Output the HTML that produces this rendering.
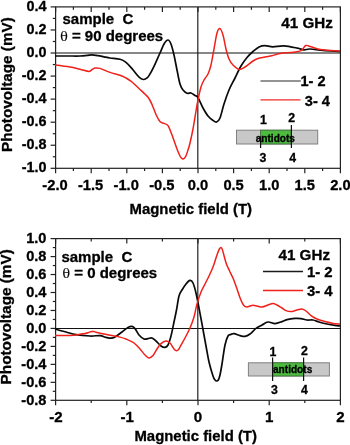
<!DOCTYPE html>
<html><head><meta charset="utf-8"><title>Photovoltage vs magnetic field</title>
<style>html,body{margin:0;padding:0;background:#fff}body{width:350px;height:445px;overflow:hidden}</style>
</head><body>
<svg width="350" height="445" viewBox="0 0 350 445" style="display:block">
<rect width="350" height="445" fill="#fff"/>
<g font-family="'Liberation Sans', sans-serif" font-weight="bold" fill="#000" stroke="#000" stroke-width="0.3">
<g stroke="#222" stroke-width="1.2" fill="none">
<rect x="55.6" y="6.9" width="284.8" height="161.4"/>
<line x1="55.6" x2="340.4" y1="53.0" y2="53.0" stroke="#111" stroke-width="1.05"/>
<line x1="197.8" x2="197.8" y1="6.9" y2="168.3"/>
</g>
<g stroke="#222" stroke-width="1.2" fill="none">
<line x1="55.60" x2="55.60" y1="168.3" y2="173.3"/>
<line x1="55.60" x2="55.60" y1="6.9" y2="11.9"/>
<line x1="73.40" x2="73.40" y1="168.3" y2="171.1"/>
<line x1="73.40" x2="73.40" y1="6.9" y2="9.7"/>
<line x1="91.20" x2="91.20" y1="168.3" y2="173.3"/>
<line x1="91.20" x2="91.20" y1="6.9" y2="11.9"/>
<line x1="109.00" x2="109.00" y1="168.3" y2="171.1"/>
<line x1="109.00" x2="109.00" y1="6.9" y2="9.7"/>
<line x1="126.80" x2="126.80" y1="168.3" y2="173.3"/>
<line x1="126.80" x2="126.80" y1="6.9" y2="11.9"/>
<line x1="144.60" x2="144.60" y1="168.3" y2="171.1"/>
<line x1="144.60" x2="144.60" y1="6.9" y2="9.7"/>
<line x1="162.40" x2="162.40" y1="168.3" y2="173.3"/>
<line x1="162.40" x2="162.40" y1="6.9" y2="11.9"/>
<line x1="180.20" x2="180.20" y1="168.3" y2="171.1"/>
<line x1="180.20" x2="180.20" y1="6.9" y2="9.7"/>
<line x1="198.00" x2="198.00" y1="168.3" y2="173.3"/>
<line x1="198.00" x2="198.00" y1="6.9" y2="11.9"/>
<line x1="215.80" x2="215.80" y1="168.3" y2="171.1"/>
<line x1="215.80" x2="215.80" y1="6.9" y2="9.7"/>
<line x1="233.60" x2="233.60" y1="168.3" y2="173.3"/>
<line x1="233.60" x2="233.60" y1="6.9" y2="11.9"/>
<line x1="251.40" x2="251.40" y1="168.3" y2="171.1"/>
<line x1="251.40" x2="251.40" y1="6.9" y2="9.7"/>
<line x1="269.20" x2="269.20" y1="168.3" y2="173.3"/>
<line x1="269.20" x2="269.20" y1="6.9" y2="11.9"/>
<line x1="287.00" x2="287.00" y1="168.3" y2="171.1"/>
<line x1="287.00" x2="287.00" y1="6.9" y2="9.7"/>
<line x1="304.80" x2="304.80" y1="168.3" y2="173.3"/>
<line x1="304.80" x2="304.80" y1="6.9" y2="11.9"/>
<line x1="322.60" x2="322.60" y1="168.3" y2="171.1"/>
<line x1="322.60" x2="322.60" y1="6.9" y2="9.7"/>
<line x1="340.40" x2="340.40" y1="168.3" y2="173.3"/>
<line x1="340.40" x2="340.40" y1="6.9" y2="11.9"/>
<line x1="50.6" x2="55.6" y1="6.90" y2="6.90"/>
<line x1="52.8" x2="55.6" y1="18.43" y2="18.43"/>
<line x1="50.6" x2="55.6" y1="29.96" y2="29.96"/>
<line x1="52.8" x2="55.6" y1="41.49" y2="41.49"/>
<line x1="50.6" x2="55.6" y1="53.01" y2="53.01"/>
<line x1="52.8" x2="55.6" y1="64.54" y2="64.54"/>
<line x1="50.6" x2="55.6" y1="76.07" y2="76.07"/>
<line x1="52.8" x2="55.6" y1="87.60" y2="87.60"/>
<line x1="50.6" x2="55.6" y1="99.13" y2="99.13"/>
<line x1="52.8" x2="55.6" y1="110.66" y2="110.66"/>
<line x1="50.6" x2="55.6" y1="122.19" y2="122.19"/>
<line x1="52.8" x2="55.6" y1="133.71" y2="133.71"/>
<line x1="50.6" x2="55.6" y1="145.24" y2="145.24"/>
<line x1="52.8" x2="55.6" y1="156.77" y2="156.77"/>
<line x1="50.6" x2="55.6" y1="168.30" y2="168.30"/>
</g>
<g font-size="14.4" text-anchor="end">
<text x="46.5" y="10.8">0.4</text>
<text x="46.5" y="33.9">0.2</text>
<text x="46.5" y="56.9">0.0</text>
<text x="46.5" y="80.0">-0.2</text>
<text x="46.5" y="103.0">-0.4</text>
<text x="46.5" y="126.1">-0.6</text>
<text x="46.5" y="149.1">-0.8</text>
<text x="46.5" y="172.2">-1.0</text>
</g>
<g font-size="14.7" text-anchor="middle">
<text x="55.0" y="189.7">-2.0</text>
<text x="90.6" y="189.7">-1.5</text>
<text x="126.2" y="189.7">-1.0</text>
<text x="161.8" y="189.7">-0.5</text>
<text x="198.0" y="189.7">0.0</text>
<text x="233.6" y="189.7">0.5</text>
<text x="269.2" y="189.7">1.0</text>
<text x="304.8" y="189.7">1.5</text>
<text x="340.4" y="189.7">2.0</text>
</g>
<text x="190.8" y="213.8" font-size="14.9" text-anchor="middle">Magnetic field (T)</text>
<text transform="translate(12.2,152.0) rotate(-90)" font-size="15.25">Photovoltage (mV)</text>
<path d="M55.0 56.0C57.2 56.0 63.8 56.0 68.0 56.0C72.2 56.0 76.8 56.1 80.0 56.0C83.2 55.9 85.0 55.6 87.0 55.4C89.0 55.2 90.2 54.8 92.0 54.8C93.8 54.8 96.0 55.3 98.0 55.6C100.0 55.9 102.0 56.4 104.0 56.8C106.0 57.2 107.3 57.6 110.0 58.0C112.7 58.4 117.3 58.5 120.0 59.2C122.7 59.9 124.0 60.7 126.0 62.3C128.0 63.9 130.0 66.3 132.0 68.6C134.0 70.9 136.5 74.3 138.0 76.0C139.5 77.7 140.1 78.0 141.0 78.6C141.9 79.2 142.6 79.5 143.5 79.5C144.4 79.5 145.4 79.1 146.3 78.4C147.2 77.8 147.7 77.6 149.0 75.6C150.3 73.6 152.2 70.2 154.0 66.4C155.8 62.6 158.3 56.7 160.0 53.0C161.7 49.3 162.7 46.2 164.0 44.0C165.3 41.8 166.8 40.0 168.0 40.0C169.2 40.0 170.0 41.5 171.0 44.0C172.0 46.5 173.0 50.7 174.0 55.0C175.0 59.3 176.0 65.2 177.0 70.0C178.0 74.8 179.0 80.7 180.0 84.0C181.0 87.3 181.8 88.5 183.0 90.0C184.2 91.5 185.7 92.7 187.0 93.2C188.3 93.7 189.7 92.6 191.0 93.0C192.3 93.4 193.8 94.7 195.0 95.5C196.2 96.3 196.7 95.5 198.0 97.6C199.3 99.7 201.3 104.9 203.0 108.0C204.7 111.1 206.3 113.9 208.0 116.0C209.7 118.1 211.6 119.4 213.0 120.4C214.4 121.4 215.4 122.4 216.6 122.0C217.8 121.6 218.8 121.0 220.0 118.0C221.2 115.0 222.5 108.7 224.0 104.0C225.5 99.3 227.2 94.3 229.0 90.0C230.8 85.7 233.0 82.0 235.0 78.0C237.0 74.0 239.0 69.4 241.0 66.0C243.0 62.6 245.0 59.9 247.0 57.5C249.0 55.1 251.0 53.2 253.0 51.5C255.0 49.8 257.0 48.0 259.0 47.0C261.0 46.0 262.7 45.6 265.0 45.6C267.3 45.6 269.8 46.8 273.0 46.8C276.2 46.8 279.9 45.6 284.0 45.8C288.1 46.0 294.2 47.5 297.5 48.2C300.8 48.9 301.9 49.7 304.0 49.8C306.1 49.9 306.8 48.9 310.0 49.0C313.2 49.1 318.0 50.0 323.0 50.4C328.0 50.8 337.2 51.3 340.0 51.5" fill="none" stroke="#0a0a0a" stroke-width="1.7" stroke-linejoin="round"/>
<path d="M55.0 65.0C57.5 65.3 65.8 66.3 70.0 67.0C74.2 67.7 76.8 68.5 80.0 69.2C83.2 69.9 87.0 71.4 89.0 71.4C91.0 71.5 91.0 70.1 92.0 69.5C93.0 68.9 93.7 68.2 95.0 68.0C96.3 67.8 97.5 67.7 100.0 68.4C102.5 69.1 106.7 71.3 110.0 72.4C113.3 73.5 117.3 74.3 120.0 75.2C122.7 76.1 124.0 76.9 126.0 78.0C128.0 79.1 129.7 80.1 132.0 82.0C134.3 83.9 137.3 87.0 140.0 89.5C142.7 92.0 146.0 94.8 148.0 97.3C150.0 99.8 150.7 101.6 152.0 104.5C153.3 107.4 154.7 111.7 156.0 114.5C157.3 117.3 158.7 120.1 160.0 121.6C161.3 123.1 162.7 122.7 164.0 123.4C165.3 124.1 166.7 123.7 168.0 125.6C169.3 127.5 170.5 131.1 172.0 135.0C173.5 138.9 175.7 145.5 177.0 149.0C178.3 152.5 179.2 154.4 180.0 156.0C180.8 157.6 181.1 157.8 181.6 158.3C182.1 158.8 182.5 159.0 183.0 159.0C183.5 159.0 183.9 158.8 184.4 158.3C184.9 157.8 185.4 157.2 186.0 155.8C186.6 154.4 187.3 152.1 188.0 150.0C188.7 147.9 189.2 146.5 190.0 143.0C190.8 139.5 192.0 134.3 193.0 129.0C194.0 123.7 195.2 115.8 196.0 111.0C196.8 106.2 197.2 104.0 198.0 100.0C198.8 96.0 200.0 90.3 201.0 87.0C202.0 83.7 202.8 82.2 204.0 80.0C205.2 77.8 206.8 76.5 208.0 74.0C209.2 71.5 210.0 69.2 211.0 65.0C212.0 60.8 213.0 54.3 214.0 49.0C215.0 43.7 216.0 36.4 217.0 33.0C218.0 29.6 219.0 28.3 220.0 28.6C221.0 28.9 222.0 31.6 223.0 35.0C224.0 38.4 225.0 45.0 226.0 49.0C227.0 53.0 227.8 56.3 229.0 59.0C230.2 61.7 231.3 63.3 233.0 65.0C234.7 66.7 237.0 69.1 239.0 69.4C241.0 69.7 242.7 68.4 245.0 67.0C247.3 65.6 250.8 62.4 253.0 61.0C255.2 59.6 256.0 59.2 258.0 58.5C260.0 57.8 262.7 57.5 265.0 57.0C267.3 56.5 269.5 56.4 272.0 55.8C274.5 55.2 276.4 54.0 280.0 53.4C283.6 52.8 289.9 52.8 293.5 52.3C297.1 51.8 299.6 51.5 301.6 50.4C303.6 49.3 304.1 46.1 305.7 45.5C307.3 44.9 308.5 46.1 311.0 46.8C313.5 47.5 317.2 49.0 320.6 49.6C324.0 50.2 328.3 50.4 331.5 50.6C334.7 50.9 338.6 51.0 340.0 51.1" fill="none" stroke="#f0201a" stroke-width="1.5" stroke-linejoin="round"/>
<text x="62.5" y="24.3" font-size="15" xml:space="preserve">sample  C</text>
<text x="60.2" y="40.5" font-size="15" xml:space="preserve"><tspan font-family="'DejaVu Serif', 'Liberation Serif', serif" font-weight="normal" font-size="12.5" stroke-width="0.15">θ</tspan> = 90 degrees</text>
<text x="281.3" y="28.4" font-size="15.2">41 GHz</text>
<line x1="260.5" x2="300.8" y1="81" y2="81" stroke="#2a2a2a" stroke-width="1.15"/>
<line x1="260.5" x2="300.5" y1="99.8" y2="99.8" stroke="#ee2a26" stroke-width="1.15"/>
<text x="300.5" y="86" font-size="14.6">1- 2</text>
<text x="304.8" y="105.5" font-size="14.6">3- 4</text>
<rect x="236.5" y="130.2" width="81.2" height="13.8" fill="#c8c8c8" stroke="#808080" stroke-width="1"/>
<rect x="260.6" y="130.2" width="30.8" height="13.8" fill="#4cbb40" stroke="#3f6f3a" stroke-width="0.9"/>
<line x1="260.6" x2="260.6" y1="136.5" y2="148.0" stroke="#111" stroke-width="1.2"/>
<line x1="291.4" x2="291.4" y1="125.0" y2="148.0" stroke="#111" stroke-width="1.2"/>
<g font-size="12.3" text-anchor="middle">
<text x="263.4" y="123.6">1</text>
<text x="291.6" y="122.3">2</text>
<text x="263.0" y="161.5">3</text>
<text x="292.6" y="161.5">4</text>
</g>
<text x="255.7" y="141.8" font-size="10.1">antidots</text>
<g stroke="#222" stroke-width="1.2" fill="none">
<rect x="55.6" y="238.6" width="284.8" height="161.7"/>
<line x1="55.6" x2="340.4" y1="328.4" y2="328.4" stroke="#111" stroke-width="1.05"/>
<line x1="197.8" x2="197.8" y1="238.6" y2="400.3"/>
</g>
<g stroke="#222" stroke-width="1.2" fill="none">
<line x1="55.60" x2="55.60" y1="400.3" y2="405.3"/>
<line x1="55.60" x2="55.60" y1="238.6" y2="243.6"/>
<line x1="91.20" x2="91.20" y1="400.3" y2="403.1"/>
<line x1="91.20" x2="91.20" y1="238.6" y2="241.4"/>
<line x1="126.80" x2="126.80" y1="400.3" y2="405.3"/>
<line x1="126.80" x2="126.80" y1="238.6" y2="243.6"/>
<line x1="162.40" x2="162.40" y1="400.3" y2="403.1"/>
<line x1="162.40" x2="162.40" y1="238.6" y2="241.4"/>
<line x1="198.00" x2="198.00" y1="400.3" y2="405.3"/>
<line x1="198.00" x2="198.00" y1="238.6" y2="243.6"/>
<line x1="233.60" x2="233.60" y1="400.3" y2="403.1"/>
<line x1="233.60" x2="233.60" y1="238.6" y2="241.4"/>
<line x1="269.20" x2="269.20" y1="400.3" y2="405.3"/>
<line x1="269.20" x2="269.20" y1="238.6" y2="243.6"/>
<line x1="304.80" x2="304.80" y1="400.3" y2="403.1"/>
<line x1="304.80" x2="304.80" y1="238.6" y2="241.4"/>
<line x1="340.40" x2="340.40" y1="400.3" y2="405.3"/>
<line x1="340.40" x2="340.40" y1="238.6" y2="243.6"/>
<line x1="50.6" x2="55.6" y1="238.60" y2="238.60"/>
<line x1="52.8" x2="55.6" y1="247.58" y2="247.58"/>
<line x1="50.6" x2="55.6" y1="256.57" y2="256.57"/>
<line x1="52.8" x2="55.6" y1="265.55" y2="265.55"/>
<line x1="50.6" x2="55.6" y1="274.53" y2="274.53"/>
<line x1="52.8" x2="55.6" y1="283.52" y2="283.52"/>
<line x1="50.6" x2="55.6" y1="292.50" y2="292.50"/>
<line x1="52.8" x2="55.6" y1="301.48" y2="301.48"/>
<line x1="50.6" x2="55.6" y1="310.47" y2="310.47"/>
<line x1="52.8" x2="55.6" y1="319.45" y2="319.45"/>
<line x1="50.6" x2="55.6" y1="328.43" y2="328.43"/>
<line x1="52.8" x2="55.6" y1="337.42" y2="337.42"/>
<line x1="50.6" x2="55.6" y1="346.40" y2="346.40"/>
<line x1="52.8" x2="55.6" y1="355.38" y2="355.38"/>
<line x1="50.6" x2="55.6" y1="364.37" y2="364.37"/>
<line x1="52.8" x2="55.6" y1="373.35" y2="373.35"/>
<line x1="50.6" x2="55.6" y1="382.33" y2="382.33"/>
<line x1="52.8" x2="55.6" y1="391.32" y2="391.32"/>
<line x1="50.6" x2="55.6" y1="400.30" y2="400.30"/>
</g>
<g font-size="14.6" text-anchor="end">
<text x="46.5" y="243.2">1.0</text>
<text x="46.5" y="261.2">0.8</text>
<text x="46.5" y="279.1">0.6</text>
<text x="46.5" y="297.1">0.4</text>
<text x="46.5" y="315.1">0.2</text>
<text x="46.5" y="333.0">0.0</text>
<text x="46.5" y="351.0">-0.2</text>
<text x="46.5" y="369.0">-0.4</text>
<text x="46.5" y="386.9">-0.6</text>
<text x="46.5" y="404.9">-0.8</text>
</g>
<g font-size="15.1" text-anchor="middle">
<text x="55.9" y="421.6">-2</text>
<text x="127.1" y="421.6">-1</text>
<text x="198.0" y="421.6">0</text>
<text x="269.2" y="421.6">1</text>
<text x="340.4" y="421.6">2</text>
</g>
<text x="195.7" y="441.4" font-size="14.9" text-anchor="middle">Magnetic field (T)</text>
<text transform="translate(11.2,384.4) rotate(-90)" font-size="15.3">Photovoltage (mV)</text>
<path d="M55.0 329.0C56.8 329.5 62.5 331.1 66.0 332.0C69.5 332.9 72.0 333.9 76.0 334.6C80.0 335.3 86.0 335.8 90.0 336.0C94.0 336.2 97.3 335.4 100.0 335.6C102.7 335.8 104.2 337.0 106.0 337.4C107.8 337.8 109.5 338.3 111.0 338.2C112.5 338.1 113.2 338.0 115.0 337.0C116.8 336.0 119.8 333.6 122.0 332.0C124.2 330.4 126.3 328.3 128.0 327.4C129.7 326.5 130.8 326.2 132.0 326.4C133.2 326.6 133.8 327.2 135.0 328.6C136.2 330.0 137.5 333.3 139.0 335.0C140.5 336.7 142.5 338.4 144.0 339.0C145.5 339.6 146.7 338.8 148.0 338.6C149.3 338.4 150.7 337.6 152.0 338.0C153.3 338.4 154.5 339.7 156.0 341.0C157.5 342.3 159.5 344.9 161.0 346.0C162.5 347.1 163.8 347.6 165.0 347.4C166.2 347.2 167.0 346.9 168.0 345.0C169.0 343.1 170.0 339.8 171.0 336.0C172.0 332.2 173.1 326.3 174.0 322.0C174.9 317.7 175.7 314.3 176.5 310.0C177.3 305.7 178.1 299.3 179.0 296.0C179.9 292.7 180.8 292.0 182.0 290.0C183.2 288.0 184.7 285.6 186.0 284.0C187.3 282.4 188.8 280.6 190.0 280.4C191.2 280.2 192.0 280.9 193.0 283.0C194.0 285.1 195.0 288.8 196.0 293.0C197.0 297.2 198.0 302.8 199.0 308.0C200.0 313.2 200.8 317.7 202.0 324.0C203.2 330.3 204.8 339.7 206.0 346.0C207.2 352.3 207.8 357.0 209.0 362.0C210.2 367.0 212.0 373.0 213.0 376.0C214.0 379.0 214.4 379.1 215.0 379.9C215.6 380.7 216.0 381.0 216.6 381.0C217.2 381.0 217.7 381.0 218.3 380.0C218.9 379.0 219.4 377.7 220.0 375.0C220.6 372.3 221.2 369.0 222.0 364.0C222.8 359.0 224.0 349.7 225.0 345.0C226.0 340.3 227.0 337.8 228.0 336.0C229.0 334.2 230.0 334.8 231.0 334.4C232.0 334.0 232.5 333.4 234.0 333.6C235.5 333.8 238.2 335.1 240.0 335.6C241.8 336.1 243.3 336.7 245.0 336.4C246.7 336.1 248.2 335.3 250.0 334.0C251.8 332.7 254.0 329.9 256.0 328.4C258.0 326.9 260.0 326.1 262.0 325.0C264.0 323.9 265.8 322.2 268.0 322.0C270.2 321.8 272.7 323.7 275.0 323.6C277.3 323.5 280.0 322.3 282.0 321.6C284.0 320.9 284.8 320.1 287.0 319.6C289.2 319.1 292.7 318.6 295.0 318.4C297.3 318.2 299.0 318.3 301.0 318.6C303.0 318.9 305.0 319.8 307.0 320.0C309.0 320.2 311.0 319.7 313.0 320.0C315.0 320.3 316.7 321.3 319.0 322.0C321.3 322.7 324.3 323.4 327.0 324.0C329.7 324.6 332.8 325.1 335.0 325.4C337.2 325.7 339.2 325.9 340.0 326.0" fill="none" stroke="#0a0a0a" stroke-width="1.7" stroke-linejoin="round"/>
<path d="M55.0 335.4C56.3 335.4 60.5 335.5 63.0 335.5C65.5 335.5 67.8 335.5 70.0 335.4C72.2 335.3 74.2 335.2 76.0 335.0C77.8 334.8 79.5 334.2 81.0 334.0C82.5 333.8 83.8 333.7 85.0 333.5C86.2 333.3 87.2 333.1 88.0 332.8C88.8 332.5 89.3 332.1 90.0 331.9C90.7 331.7 91.3 331.6 92.0 331.5C92.7 331.4 93.3 331.5 94.0 331.6C94.7 331.7 95.2 332.0 96.0 332.2C96.8 332.4 97.7 332.7 99.0 333.0C100.3 333.3 101.8 333.6 104.0 334.0C106.2 334.4 109.7 335.2 112.0 335.6C114.3 336.0 115.7 336.0 118.0 336.6C120.3 337.2 123.3 337.9 126.0 339.0C128.7 340.1 131.7 341.3 134.0 343.0C136.3 344.7 138.2 347.0 140.0 349.0C141.8 351.0 143.5 353.5 145.0 355.0C146.5 356.5 147.7 357.9 149.0 358.0C150.3 358.1 151.7 357.1 153.0 355.6C154.3 354.1 155.7 351.0 157.0 349.0C158.3 347.0 159.5 344.9 161.0 343.6C162.5 342.3 164.5 341.1 166.0 341.0C167.5 340.9 168.8 341.9 170.0 343.0C171.2 344.1 172.2 346.4 173.0 347.6C173.8 348.8 174.4 349.5 175.0 350.0C175.6 350.5 176.0 350.7 176.6 350.7C177.2 350.7 177.7 350.4 178.3 349.8C178.9 349.2 178.9 349.0 180.0 347.0C181.1 345.0 183.3 341.2 185.0 338.0C186.7 334.8 188.5 331.5 190.0 328.0C191.5 324.5 192.8 321.0 194.0 317.0C195.2 313.0 195.8 308.2 197.0 304.0C198.2 299.8 199.7 295.3 201.0 292.0C202.3 288.7 203.7 286.7 205.0 284.0C206.3 281.3 207.7 278.8 209.0 276.0C210.3 273.2 211.7 270.5 213.0 267.0C214.3 263.5 215.9 258.0 217.0 255.0C218.1 252.0 218.7 250.2 219.4 249.0C220.1 247.8 220.8 247.3 221.3 247.6C221.9 247.9 222.3 249.3 222.7 250.6C223.1 251.9 223.3 253.0 223.9 255.2C224.5 257.4 225.4 261.2 226.4 264.0C227.4 266.8 228.8 269.2 229.9 271.7C231.1 274.2 232.2 276.1 233.3 278.8C234.4 281.5 235.5 284.8 236.7 288.0C237.8 291.2 239.0 295.4 240.2 298.3C241.3 301.2 242.5 303.8 243.6 305.2C244.7 306.6 245.6 307.0 247.0 307.0C248.4 307.0 250.3 305.6 252.0 305.4C253.7 305.2 255.3 305.7 257.0 306.0C258.7 306.3 260.2 307.2 262.0 307.0C263.8 306.8 266.2 305.6 268.0 305.0C269.8 304.4 271.5 303.6 273.0 303.6C274.5 303.6 275.5 304.3 277.0 305.0C278.5 305.7 280.5 307.1 282.0 308.0C283.5 308.9 284.5 310.0 286.0 310.6C287.5 311.2 289.2 311.7 291.0 311.6C292.8 311.5 295.2 310.4 297.0 310.0C298.8 309.6 300.5 308.8 302.0 309.0C303.5 309.2 304.5 309.9 306.0 311.0C307.5 312.1 309.2 314.3 311.0 315.6C312.8 316.9 314.7 318.0 317.0 319.0C319.3 320.0 322.3 320.9 325.0 321.6C327.7 322.3 330.5 323.0 333.0 323.4C335.5 323.8 338.8 323.9 340.0 324.0" fill="none" stroke="#f0201a" stroke-width="1.5" stroke-linejoin="round"/>
<text x="61.4" y="261.6" font-size="15" xml:space="preserve">sample  C</text>
<text x="62.5" y="278.2" font-size="15" xml:space="preserve"><tspan font-family="'DejaVu Serif', 'Liberation Serif', serif" font-weight="normal" font-size="12.5" stroke-width="0.15">θ</tspan> = 0 degrees</text>
<text x="278.5" y="259.8" font-size="15.2">41 GHz</text>
<line x1="263" x2="303" y1="271.6" y2="271.6" stroke="#1a1a1a" stroke-width="1.5"/>
<line x1="263" x2="303" y1="290.6" y2="290.6" stroke="#f0201a" stroke-width="1.5"/>
<text x="306.9" y="276.7" font-size="14.9">1- 2</text>
<text x="306.9" y="295.8" font-size="14.9">3- 4</text>
<rect x="248.4" y="362.8" width="81.0" height="13.2" fill="#c8c8c8" stroke="#808080" stroke-width="1"/>
<rect x="272.6" y="362.8" width="31.0" height="13.2" fill="#4cbb40" stroke="#3f6f3a" stroke-width="0.9"/>
<line x1="272.6" x2="272.6" y1="357.6" y2="381.0" stroke="#111" stroke-width="1.2"/>
<line x1="303.6" x2="303.6" y1="357.6" y2="381.0" stroke="#111" stroke-width="1.2"/>
<g font-size="12.3" text-anchor="middle">
<text x="272.8" y="356.0">1</text>
<text x="304.3" y="355.0">2</text>
<text x="274.5" y="394.3">3</text>
<text x="304.3" y="394.3">4</text>
</g>
<text x="273.0" y="372.6" font-size="10.1">antidots</text>
</g>
</svg>
</body></html>
